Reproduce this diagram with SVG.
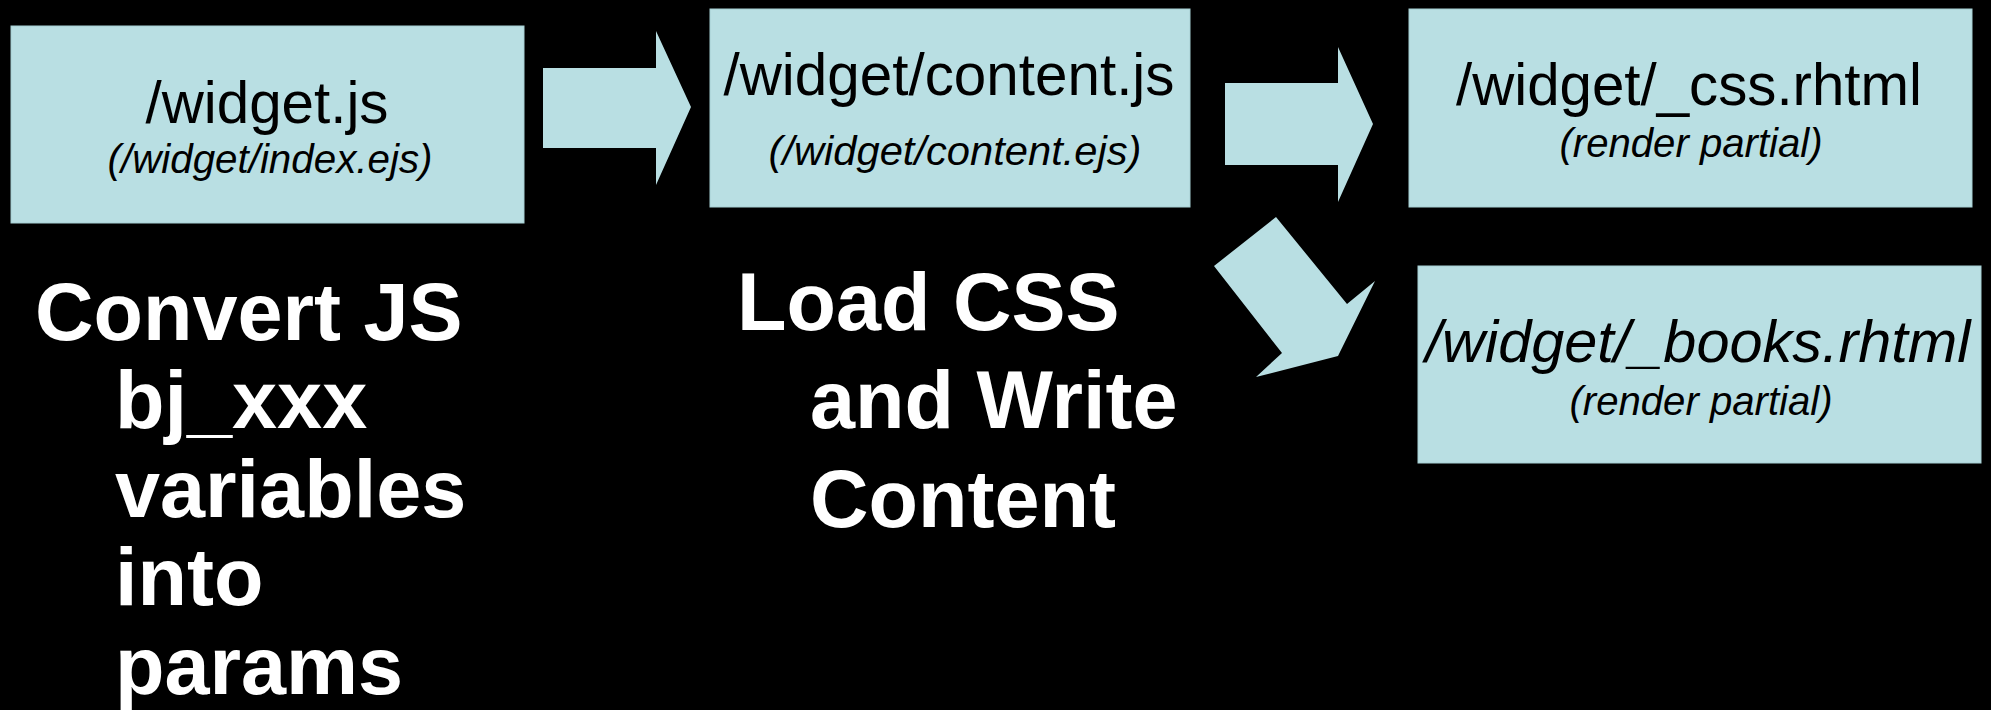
<svg xmlns="http://www.w3.org/2000/svg" width="1991" height="710" viewBox="0 0 1991 710">
<style>
.box{fill:#b9dfe3;stroke:#a6cfd3;stroke-width:1}
.arrow{fill:#b9dfe3}
.main{font-family:"Liberation Sans",Arial,sans-serif;font-size:60px;fill:#000;text-anchor:middle}
.sub{font-family:"Liberation Sans",Arial,sans-serif;font-size:40px;font-style:italic;fill:#000;text-anchor:middle}
.big{font-family:"Liberation Sans",Arial,sans-serif;font-size:81px;font-weight:bold;fill:#fff}
</style>
<rect x="0" y="0" width="1991" height="710" fill="#000"/>
<g id="connectors">
<polygon class="arrow" points="543,68 656,68 656,31 691,107 656,185 656,148 543,148"/>
<polygon class="arrow" points="1225,83 1338,83 1338,47 1373,124 1338,202 1338,165 1225,165"/>
<polygon class="arrow" points="1276,217 1347,304 1375,281 1338,356 1256,377 1282,353 1214,266"/>
</g>
<g id="node-widget-js">
<rect class="box" x="11" y="26" width="513" height="197"/>
<text class="main" x="267" y="123" textLength="243" lengthAdjust="spacingAndGlyphs">/widget.js</text>
<text class="sub" x="270" y="173" textLength="325" lengthAdjust="spacingAndGlyphs">(/widget/index.ejs)</text>
</g>
<g id="node-content-js">
<rect class="box" x="710" y="9" width="480" height="198"/>
<text class="main" x="949" y="95" textLength="451" lengthAdjust="spacingAndGlyphs">/widget/content.js</text>
<text class="sub" x="955" y="165" textLength="373" lengthAdjust="spacingAndGlyphs">(/widget/content.ejs)</text>
</g>
<g id="node-css">
<rect class="box" x="1409" y="9" width="563" height="198"/>
<text class="main" x="1689" y="105" textLength="466" lengthAdjust="spacingAndGlyphs">/widget/_css.rhtml</text>
<text class="sub" x="1691" y="157" textLength="263" lengthAdjust="spacingAndGlyphs">(render partial)</text>
</g>
<g id="node-books">
<rect class="box" x="1418" y="266" width="563" height="197"/>
<text class="main" x="1698" y="362" font-style="italic" textLength="545" lengthAdjust="spacingAndGlyphs">/widget/_books.rhtml</text>
<text class="sub" x="1701" y="415" textLength="263" lengthAdjust="spacingAndGlyphs">(render partial)</text>
</g>
<g id="label-convert">
<text class="big" x="35" y="340">Convert JS</text>
<text class="big" x="115" y="428">bj_xxx</text>
<text class="big" x="115" y="517">variables</text>
<text class="big" x="115" y="605">into</text>
<text class="big" x="115" y="694">params</text>
</g>
<g id="label-load">
<text class="big" x="737" y="330">Load CSS</text>
<text class="big" x="810" y="428">and Write</text>
<text class="big" x="810" y="527">Content</text>
</g>
</svg>
